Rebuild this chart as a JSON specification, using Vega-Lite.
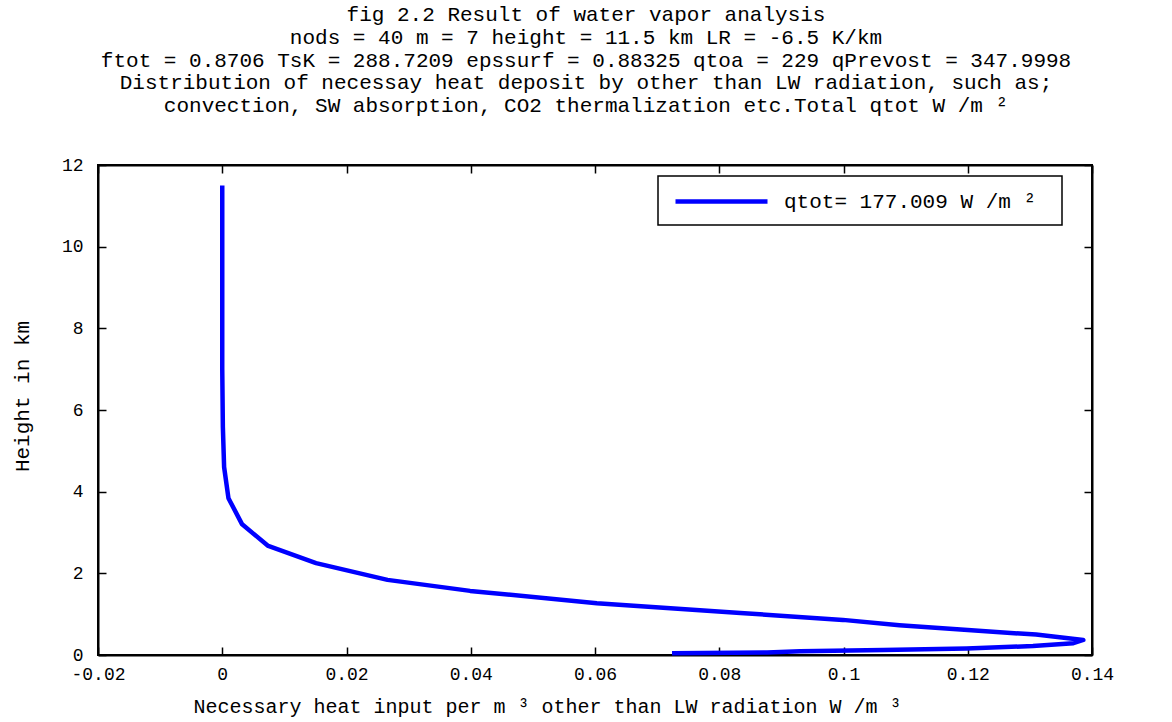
{
  "$schema": "https://vega.github.io/schema/vega-lite/v6.json",
  "width": 994,
  "height": 490,
  "autosize": {"type": "none"},
  "padding": {"left": 98, "top": 165, "right": 80, "bottom": 67},
  "background": "white",
  "title": {
    "text": [
      "fig 2.2  Result of water vapor analysis",
      "nods = 40  m = 7  height = 11.5 km    LR = -6.5 K/km",
      "ftot =  0.8706 TsK =  288.7209   epssurf =  0.88325   qtoa = 229  qPrevost = 347.9998",
      "Distribution of necessay heat deposit by other than LW  radiation,  such as;",
      "convection, SW  absorption, CO2 thermalization etc.Total qtot W /m ²"
    ],
    "font": "Liberation Mono",
    "fontSize": 21,
    "fontWeight": "normal",
    "color": "black",
    "lineHeight": 22.7,
    "anchor": "middle",
    "frame": "group",
    "offset": 40,
    "dx": -9
  },
  "config": {
    "view": {"stroke": "black", "strokeWidth": 2},
    "font": "Liberation Mono",
    "legend": {"strokeWidth": 1.5},
    "axis": {
      "grid": false,
      "domainColor": "black",
      "domainWidth": 2,
      "tickColor": "black",
      "tickWidth": 1.5,
      "tickSize": -8,
      "labelFont": "Liberation Mono",
      "labelFontSize": 18,
      "labelColor": "black",
      "labelFlush": false,
      "labelOverlap": false,
      "titleFont": "Liberation Mono",
      "titleFontSize": 20,
      "titleFontWeight": "normal",
      "titleColor": "black"
    }
  },
  "data": {
    "values": [
      {"i": 0, "q": 0.0724, "h": 0.04},
      {"i": 1, "q": 0.0877, "h": 0.06},
      {"i": 2, "q": 0.093, "h": 0.09},
      {"i": 3, "q": 0.1064, "h": 0.12},
      {"i": 4, "q": 0.1198, "h": 0.16},
      {"i": 5, "q": 0.1305, "h": 0.22},
      {"i": 6, "q": 0.137, "h": 0.29},
      {"i": 7, "q": 0.1386, "h": 0.37},
      {"i": 8, "q": 0.131, "h": 0.5},
      {"i": 9, "q": 0.12, "h": 0.61},
      {"i": 10, "q": 0.109, "h": 0.73},
      {"i": 11, "q": 0.0999, "h": 0.86},
      {"i": 12, "q": 0.0834, "h": 1.03},
      {"i": 13, "q": 0.0603, "h": 1.27},
      {"i": 14, "q": 0.0399, "h": 1.57},
      {"i": 15, "q": 0.0266, "h": 1.84},
      {"i": 16, "q": 0.0151, "h": 2.25},
      {"i": 17, "q": 0.0074, "h": 2.67},
      {"i": 18, "q": 0.0032, "h": 3.2},
      {"i": 19, "q": 0.001, "h": 3.84},
      {"i": 20, "q": 0.0003, "h": 4.6},
      {"i": 21, "q": 0.0001, "h": 5.58},
      {"i": 22, "q": 0.0, "h": 7.0},
      {"i": 23, "q": 0.0, "h": 9.0},
      {"i": 24, "q": 0.0, "h": 11.5}
    ]
  },
  "resolve": {"axis": {"x": "independent", "y": "independent"}},
  "layer": [
    {
      "mark": {"type": "line", "strokeWidth": 4.5, "strokeJoin": "round", "strokeCap": "butt"},
      "encoding": {
        "x": {
          "field": "q",
          "type": "quantitative",
          "scale": {"domain": [-0.02, 0.14], "nice": false, "zero": false},
          "axis": {
            "orient": "bottom",
            "values": [-0.02, 0, 0.02, 0.04, 0.06, 0.08, 0.1, 0.12, 0.14],
            "labelExpr": "'' + datum.value",
            "labelPadding": 18,
            "title": "Necessary heat input per m ³ other than LW radiation  W /m ³",
            "titlePadding": 13,
            "titleAnchor": "middle",
            "titleX": 449
          }
        },
        "y": {
          "field": "h",
          "type": "quantitative",
          "scale": {"domain": [0, 12], "nice": false},
          "axis": {
            "orient": "left",
            "values": [0, 2, 4, 6, 8, 10, 12],
            "labelPadding": 23,
            "title": "Height in km",
            "titleFontSize": 21,
            "titleX": -66,
            "titleY": 231
          }
        },
        "order": {"field": "i", "type": "quantitative"},
        "color": {
          "datum": "qtot= 177.009  W /m ²",
          "type": "nominal",
          "scale": {"range": ["#0000ff"]},
          "legend": {
            "orient": "none",
            "legendX": 560,
            "legendY": 11,
            "title": null,
            "strokeColor": "black",
            "fillColor": "white",
            "padding": 13,
            "symbolType": "M-4.6,0H4.6",
            "symbolSize": 400,
            "symbolStrokeWidth": 4.5,
            "symbolOffset": 38,
            "labelFont": "Liberation Mono",
            "labelFontSize": 21,
            "labelColor": "black",
            "labelOffset": 50,
            "labelLimit": 400
          }
        }
      }
    },
    {
      "mark": {"type": "line", "strokeOpacity": 0},
      "encoding": {
        "x": {
          "field": "q",
          "type": "quantitative",
          "axis": {
            "orient": "top",
            "values": [-0.02, 0, 0.02, 0.04, 0.06, 0.08, 0.1, 0.12, 0.14],
            "labels": false,
            "title": null
          }
        },
        "y": {
          "field": "h",
          "type": "quantitative",
          "axis": {
            "orient": "right",
            "values": [0, 2, 4, 6, 8, 10, 12],
            "labels": false,
            "title": null
          }
        },
        "order": {"field": "i", "type": "quantitative"}
      }
    }
  ]
}
